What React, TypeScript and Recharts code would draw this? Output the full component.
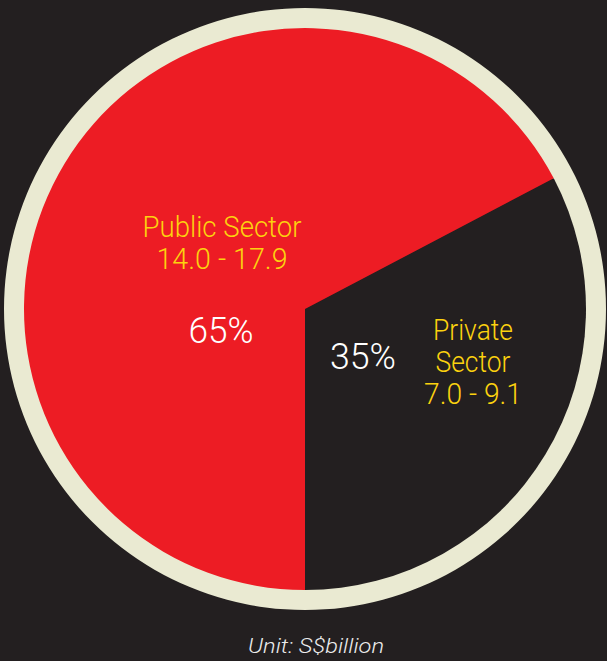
import React from "react";
import { PieChart, Pie, Cell } from "recharts";

// slice shares as drawn (private slice covers ~117.6 degrees)
const sectors = ["Private Sector", "Public Sector"];
const shares = [32.7, 67.3];
const percentLabels = ["35%", "65%"];
const nameLines = [
  ["Private", "Sector", "7.0 - 9.1"],
  ["Public Sector", "14.0 - 17.9"],
];
const unitText = "Unit: S$billion";

const BG = "#231f20";
const RED = "#ed1c24";
const CREAM = "#eaead2";
const GOLD = "#fcd20f";
const FONT = "Roboto, 'Liberation Sans', sans-serif";

const data = sectors.map((name, i) => ({ name, value: shares[i] }));
const ring = [{ name: "ring", value: 1 }];

// offsets of label blocks from the pie centre, and condensed widths
const pctPos = [
  { dx: 58, dy: 60, w: 66 },
  { dx: -84, dy: 34, w: 65 },
];
const namePos = [
  { dx: 168, dy: 31, lh: 32, w: [80, 75, 98] },
  { dx: -83, dy: -72, lh: 32, w: [159, 131] },
];

const renderLabel = (props: any) => {
  const { cx, cy, index } = props;
  const p = pctPos[index];
  const n = namePos[index];
  return (
    <g key={`lbl-${index}`}>
      <text
        x={cx + p.dx}
        y={cy + p.dy}
        textAnchor="middle"
        fill="#ffffff"
        fontFamily={FONT}
        fontWeight={300}
        fontSize={36}
        textLength={p.w}
        lengthAdjust="spacingAndGlyphs"
      >
        {percentLabels[index]}
      </text>
      {nameLines[index].map((line, j) => (
        <text
          key={j}
          x={cx + n.dx}
          y={cy + n.dy + j * n.lh}
          textAnchor="middle"
          fill={GOLD}
          fontFamily={FONT}
          fontWeight={300}
          fontSize={30}
          textLength={n.w[j]}
          lengthAdjust="spacingAndGlyphs"
        >
          {line}
        </text>
      ))}
    </g>
  );
};

const renderUnit = (props: any) => {
  const { cx, cy } = props;
  return (
    <text
      key="unit"
      x={cx + 11}
      y={cy + 344}
      textAnchor="middle"
      fill="#ececec"
      fontFamily={FONT}
      fontWeight={300}
      fontStyle="italic"
      fontSize={21}
      textLength={136}
      lengthAdjust="spacingAndGlyphs"
    >
      {unitText}
    </text>
  );
};

export default function App() {
  return (
    <div
      style={{
        position: "absolute",
        left: 0,
        top: 0,
        width: 607,
        height: 661,
        background: BG,
        overflow: "hidden",
      }}
    >
      <PieChart width={607} height={661} margin={{ top: 0, right: 0, bottom: 0, left: 0 }}>
        <Pie
          data={ring}
          dataKey="value"
          cx={305}
          cy={309}
          innerRadius={280}
          outerRadius={301}
          stroke="none"
          fill={CREAM}
          label={renderUnit}
          labelLine={false}
          isAnimationActive={false}
        />
        <Pie
          data={data}
          dataKey="value"
          cx={305}
          cy={309}
          outerRadius={281}
          startAngle={-90}
          endAngle={270}
          stroke="none"
          label={renderLabel}
          labelLine={false}
          isAnimationActive={false}
        >
          <Cell fill={BG} />
          <Cell fill={RED} />
        </Pie>
      </PieChart>
    </div>
  );
}
